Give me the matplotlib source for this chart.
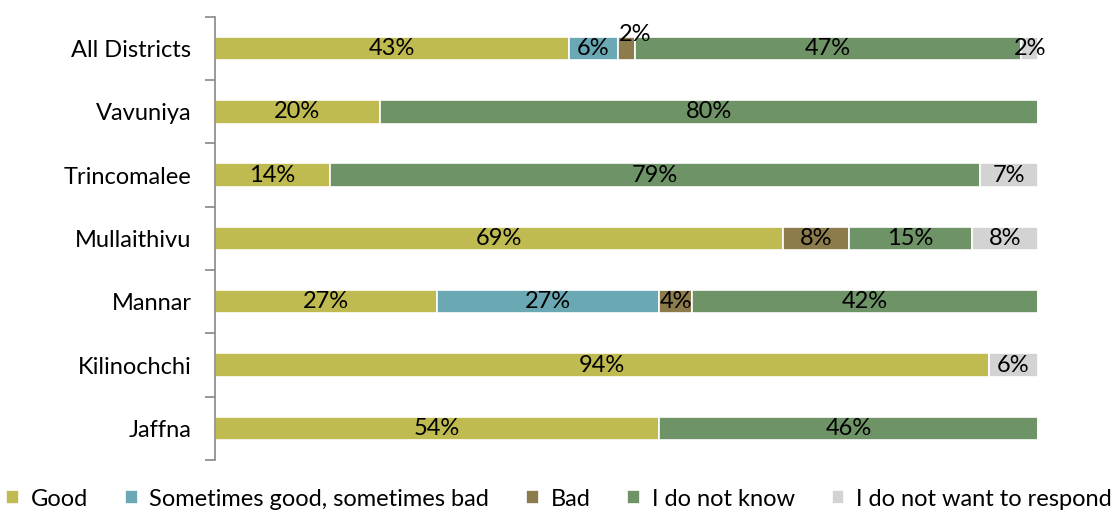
import matplotlib.pyplot as plt
import numpy as np

plt.rcParams['font.family'] = ['Lato', 'DejaVu Sans']

districts = ["All Districts", "Vavuniya", "Trincomalee", "Mullaithivu", "Mannar", "Kilinochchi", "Jaffna"]
series = ["Good", "Sometimes good, sometimes bad", "Bad", "I do not know", "I do not want to respond"]
good = [43, 20, 14, 69, 27, 94, 54]
sometimes = [6, 0, 0, 0, 27, 0, 0]
bad = [2, 0, 0, 8, 4, 0, 0]
dont_know = [47, 80, 79, 15, 42, 0, 46]
no_respond = [2, 0, 7, 8, 0, 6, 0]
colors = ["#BFBB50", "#6AA8B4", "#8C7C4C", "#6E9367", "#D3D3D3"]

values = np.array([good, sometimes, bad, dont_know, no_respond], dtype=float)
ypos = np.arange(len(districts))[::-1]

fig = plt.figure(figsize=(11.18, 5.12), dpi=100)
ax = fig.add_axes([0.1923, 0.1016, 0.7361, 0.8654])

left = np.zeros(len(districts))
for i, name in enumerate(series):
    ax.barh(ypos, values[i], left=left, height=0.37, color=colors[i],
            edgecolor="white", linewidth=1.2, label=name)
    for j, v in enumerate(values[i]):
        if v <= 0:
            continue
        x = left[j] + v / 2
        y = ypos[j]
        # small "Bad" slice of All Districts: label sits above the bar
        if j == 0 and i == 2:
            x += 1.0
            y += 0.22
        ax.text(x, y, f"{v:.0f}%", ha="center", va="center", fontsize=17, color="black")
    left += values[i]

ax.set_xlim(0, 100)
ax.set_ylim(-0.5, len(districts) - 0.5)
ax.set_yticks(ypos)
ax.set_yticklabels(districts, fontsize=17)
ax.set_yticks(np.arange(-0.5, len(districts), 1.0), minor=True)
ax.tick_params(axis="y", which="major", length=0, pad=17)
ax.tick_params(axis="y", which="minor", length=7, width=1.2, color="#888888")
ax.set_xticks([])
for s in ["top", "right", "bottom"]:
    ax.spines[s].set_visible(False)
ax.spines["left"].set_color("#888888")
ax.spines["left"].set_linewidth(1.2)

fig.legend(loc="center", bbox_to_anchor=(0.5, 0.025), ncol=5, frameon=False,
           fontsize=17, handlelength=0.55, handleheight=0.55, handletextpad=0.5,
           columnspacing=1.55, borderaxespad=0, borderpad=0)

fig.savefig("out.png", dpi=100)
